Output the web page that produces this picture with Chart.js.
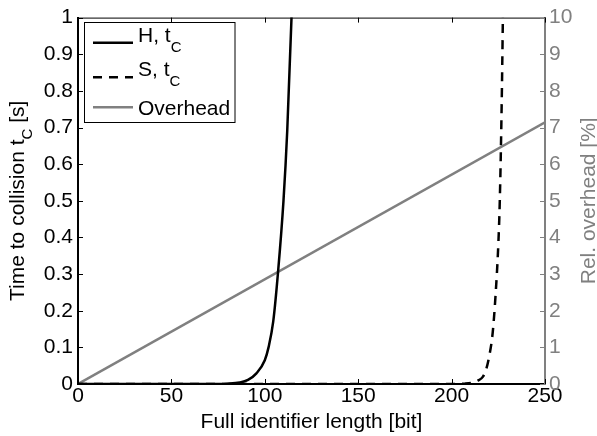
<!DOCTYPE html>
<html>
<head>
<meta charset="utf-8">
<script src="https://cdn.jsdelivr.net/npm/chart.js@4"></script>
<style>
html,body{margin:0;padding:0;background:#fff;}
canvas{display:block;}
</style>
</head>
<body>
<canvas id="c" width="597" height="436"></canvas>
<script>
// ---- data ----
const hX = [0, 70, 80, 86.6, 91, 95.5, 100, 102, 104.5, 107.1, 110, 112, 114.3, 116];
const hY = [0, 0, 0.001, 0.004, 0.011, 0.029, 0.065, 0.1, 0.17, 0.306, 0.5, 0.69, 1.0, 1.3];
const sX = [0, 200, 207, 211.4, 214, 216.8, 218.5, 220.3, 222, 223.5, 225, 225.8, 226.8, 227.4, 228.2];
const sY = [0, 0, 0.001, 0.004, 0.009, 0.02, 0.04, 0.08, 0.14, 0.24, 0.38, 0.5, 0.76, 0.98, 1.3];
const ohX = [0, 250];
const ohY = [0, 7.14];
const xTicks = [0, 50, 100, 150, 200, 250];
const leftTicks = [0, 0.1, 0.2, 0.3, 0.4, 0.5, 0.6, 0.7, 0.8, 0.9, 1];
const leftTickLabels = ['0', '0.1', '0.2', '0.3', '0.4', '0.5', '0.6', '0.7', '0.8', '0.9', '1'];
const rightTicks = [0, 1, 2, 3, 4, 5, 6, 7, 8, 9, 10];
const seriesNames = ['H, t', 'S, t', 'Overhead'];

const FONT = '"Liberation Sans", Arial, Helvetica, sans-serif';
const GREY = '#808080';

function pts(xs, ys) { return xs.map((x, i) => ({ x: x, y: ys[i] })); }

function drawParts(ctx, parts, x, y, size, subSize, subOff, align) {
  let w = 0;
  parts.forEach(p => {
    ctx.font = (p.sub ? subSize : size) + 'px ' + FONT;
    p.w = ctx.measureText(p.t).width;
    w += p.w;
  });
  let cx = align === 'center' ? x - w / 2 : x;
  ctx.textAlign = 'left';
  ctx.textBaseline = 'alphabetic';
  parts.forEach(p => {
    ctx.font = (p.sub ? subSize : size) + 'px ' + FONT;
    ctx.fillText(p.t, cx, y + (p.sub ? subOff : 0));
    cx += p.w;
  });
}

const decor = {
  id: 'decor',
  afterDraw(chart) {
    const ctx = chart.ctx, a = chart.chartArea;
    const x = chart.scales.x, y = chart.scales.y, y2 = chart.scales.y2;
    ctx.save();
    // top border
    ctx.strokeStyle = '#000';
    ctx.lineWidth = 1;
    ctx.beginPath();
    ctx.moveTo(a.left, a.top + 0.5);
    ctx.lineTo(a.right, a.top + 0.5);
    ctx.stroke();
    // x ticks (inward, bottom and top)
    ctx.beginPath();
    xTicks.forEach(v => {
      const px = Math.round(x.getPixelForValue(v)) + 0.5;
      ctx.moveTo(px, a.bottom); ctx.lineTo(px, a.bottom - 5);
      ctx.moveTo(px, a.top); ctx.lineTo(px, a.top + 5);
    });
    // left ticks
    leftTicks.forEach(v => {
      const py = Math.round(y.getPixelForValue(v)) + 0.5;
      ctx.moveTo(a.left, py); ctx.lineTo(a.left + 5, py);
    });
    ctx.stroke();
    // right ticks
    ctx.strokeStyle = GREY;
    ctx.beginPath();
    rightTicks.forEach(v => {
      const py = Math.round(y2.getPixelForValue(v)) + 0.5;
      ctx.moveTo(a.right, py); ctx.lineTo(a.right - 5, py);
    });
    ctx.stroke();

    // axis titles
    ctx.fillStyle = '#000';
    drawParts(ctx, [{ t: 'Full identifier length [bit]' }], (a.left + a.right) / 2, 428, 21, 15, 9, 'center');
    ctx.save();
    ctx.translate(24, (a.top + a.bottom) / 2);
    ctx.rotate(-Math.PI / 2);
    drawParts(ctx, [{ t: 'Time to collision t' }, { t: 'C', sub: true }, { t: ' [s]' }], 0, 0, 21, 15, 8, 'center');
    ctx.restore();
    ctx.save();
    ctx.fillStyle = GREY;
    ctx.translate(594.5, (a.top + a.bottom) / 2);
    ctx.rotate(-Math.PI / 2);
    drawParts(ctx, [{ t: 'Rel. overhead [%]' }], 0, 0, 21, 15, 8, 'center');
    ctx.restore();

    // legend
    const lx = 84.5, ly = 22.5, lw = 150.5, lh = 100;
    ctx.fillStyle = '#fff';
    ctx.fillRect(lx, ly, lw, lh);
    ctx.strokeStyle = '#000';
    ctx.lineWidth = 1;
    ctx.strokeRect(lx, ly, lw, lh);
    const ds = chart.data.datasets;
    const rows = [42.7, 77.3, 107.3];
    const baselines = [41.7, 76, 115];
    ds.forEach((d, i) => {
      ctx.save();
      ctx.strokeStyle = d.borderColor;
      ctx.lineWidth = d.borderWidth;
      ctx.setLineDash(d.borderDash || []);
      ctx.beginPath();
      ctx.moveTo(93, rows[i]);
      ctx.lineTo(133, rows[i]);
      ctx.stroke();
      ctx.restore();
      ctx.fillStyle = '#000';
      const parts = i < 2 ? [{ t: seriesNames[i] }, { t: 'C', sub: true }] : [{ t: seriesNames[i] }];
      drawParts(ctx, parts, 138, baselines[i], 21, 15, 10, 'left');
    });
    ctx.restore();
  }
};

new Chart(document.getElementById('c'), {
  type: 'line',
  data: {
    datasets: [
      { label: seriesNames[0], data: pts(hX, hY), yAxisID: 'y', borderColor: '#000', borderWidth: 2.5,
        pointRadius: 0, cubicInterpolationMode: 'monotone', fill: false, order: 1 },
      { label: seriesNames[1], data: pts(sX, sY), yAxisID: 'y', borderColor: '#000', borderWidth: 2.5,
        borderDash: [9, 7], pointRadius: 0, cubicInterpolationMode: 'monotone', fill: false, order: 1 },
      { label: seriesNames[2], data: pts(ohX, ohY), yAxisID: 'y2', borderColor: GREY, borderWidth: 2.5,
        pointRadius: 0, fill: false, order: 2 }
    ]
  },
  options: {
    responsive: false,
    animation: false,
    devicePixelRatio: 1,
    layout: { padding: { top: 16, left: 0, right: 0, bottom: 0 } },
    plugins: { legend: { display: false }, tooltip: { enabled: false }, title: { display: false } },
    scales: {
      x: {
        type: 'linear', min: 0, max: 250,
        afterBuildTicks: s => { s.ticks = xTicks.map(v => ({ value: v })); },
        ticks: { color: '#000', font: { family: FONT, size: 21 }, padding: 0, maxRotation: 0, autoSkip: false,
                 callback: v => String(v) },
        grid: { display: false, drawTicks: false },
        border: { display: true, color: '#000', width: 2 },
        afterFit: s => { s.height = 52; }
      },
      y: {
        type: 'linear', position: 'left', min: 0, max: 1,
        afterBuildTicks: s => { s.ticks = leftTicks.map(v => ({ value: v })); },
        ticks: { color: '#000', font: { family: FONT, size: 21 }, padding: 5, autoSkip: false,
                 callback: (v) => leftTickLabels[leftTicks.findIndex(t => Math.abs(t - v) < 1e-6)] },
        grid: { display: false, drawTicks: false },
        border: { display: true, color: '#000', width: 2 },
        afterFit: s => { s.width = 78; }
      },
      y2: {
        type: 'linear', position: 'right', min: 0, max: 10,
        afterBuildTicks: s => { s.ticks = rightTicks.map(v => ({ value: v })); },
        ticks: { color: GREY, font: { family: FONT, size: 21 }, padding: 4, autoSkip: false,
                 callback: v => String(v) },
        grid: { display: false, drawTicks: false },
        border: { display: true, color: GREY, width: 2 },
        afterFit: s => { s.width = 52; }
      }
    }
  },
  plugins: [decor]
});
</script>
</body>
</html>
